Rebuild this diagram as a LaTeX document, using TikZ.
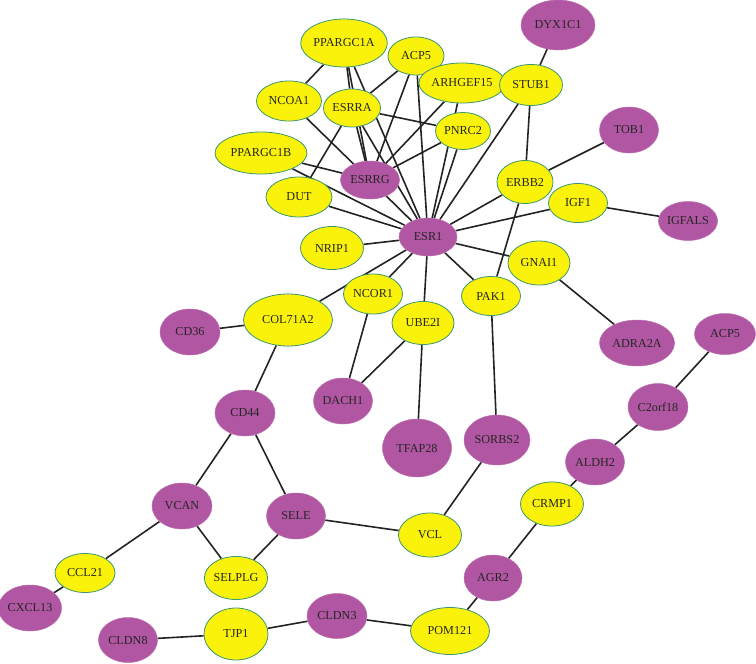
\documentclass[tikz,border=0pt]{standalone}
\usepackage{fontspec}
\setmainfont{Liberation Serif}
\usepackage{tikz}
\usetikzlibrary{shapes.geometric, backgrounds}
\definecolor{geneyellow}{RGB}{250,242,10}
\definecolor{geneborder}{RGB}{60,150,110}
\definecolor{genepurple}{RGB}{177,86,162}
\definecolor{edgegray}{RGB}{35,35,35}

\begin{document}
\begin{tikzpicture}[
		x=1pt, y=-1pt,
		gene/.style={ellipse, inner sep=0pt, font=\fontsize{12.2}{13}\selectfont,
			text=black!85, minimum width=60, minimum height=44},
		yel/.style={gene, fill=geneyellow, draw=geneborder, line width=0.8pt},
		pur/.style={gene, fill=genepurple, draw=genepurple!85!white, line width=0.5pt},
		edge/.style={line width=1.6pt, draw=edgegray}
	]
		\useasboundingbox (0,0) rectangle (756,664);

		% upper cluster round ESR1
		\node[yel, minimum width=86, minimum height=48] (ppargc1a) at (344,43) {PPARGC1A};
		\node[yel, minimum width=56, minimum height=38] (acp5) at (416,56) {ACP5};
		\node[yel, minimum width=68, minimum height=40] (arhgef15) at (462,83) {ARHGEF15};
		\node[yel, minimum width=63, minimum height=41] (stub1) at (531,85) {STUB1};
		\node[pur, minimum width=74, minimum height=50] (dyx1c1) at (558,25) {DYX1C1};
		\node[yel, minimum width=65, minimum height=40] (ncoa1) at (289,101) {NCOA1};
		\node[yel, minimum width=57, minimum height=38] (esrra) at (352,108) {ESRRA};
		\node[yel, minimum width=55, minimum height=37] (pnrc2) at (463,131) {PNRC2};
		\node[pur, minimum width=59, minimum height=46] (tob1) at (629,130) {TOB1};
		\node[yel, minimum width=92, minimum height=42] (ppargc1b) at (261,153) {PPARGC1B};
		\node[pur, minimum width=59, minimum height=38] (esrrg) at (370,180) {ESRRG};
		\node[yel, minimum width=56, minimum height=43] (erbb2) at (525,182) {ERBB2};
		\node[yel, minimum width=66, minimum height=40] (dut) at (299,197) {DUT};
		\node[yel, minimum width=59, minimum height=39] (igf1) at (578,203) {IGF1};
		\node[pur, minimum width=59, minimum height=39] (igfals) at (688,221) {IGFALS};
		\node[pur, minimum width=58, minimum height=38] (esr1) at (428,237) {ESR1};
		\node[yel, minimum width=63, minimum height=43] (nrip1) at (332,248) {NRIP1};
		\node[yel, minimum width=62, minimum height=44] (gnai1) at (539,263) {GNAI1};
		\node[yel, minimum width=59, minimum height=40] (ncor1) at (373,294) {NCOR1};
		\node[yel, minimum width=59, minimum height=39] (pak1) at (491,296) {PAK1};
		\node[yel, minimum width=89, minimum height=52] (col71a2) at (288,320) {COL71A2};
		\node[yel, minimum width=62, minimum height=43] (ube2i) at (423,323) {UBE2I};

		% lower part
		\node[pur, minimum width=60, minimum height=46] (cd36) at (190,332) {CD36};
		\node[pur, minimum width=61, minimum height=41] (acp5b) at (725,334) {ACP5};
		\node[pur, minimum width=75, minimum height=46] (adra2a) at (637,343) {ADRA2A};
		\node[pur, minimum width=59, minimum height=46] (dach1) at (343,401) {DACH1};
		\node[pur, minimum width=60, minimum height=47] (c2orf18) at (658,407) {C2orf18};
		\node[pur, minimum width=60, minimum height=46] (cd44) at (245,413) {CD44};
		\node[pur, minimum width=66, minimum height=50] (sorbs2) at (497,440) {SORBS2};
		\node[pur, minimum width=69, minimum height=58] (tfap28) at (417,448) {TFAP28};
		\node[pur, minimum width=59, minimum height=46] (aldh2) at (595,462) {ALDH2};
		\node[yel, minimum width=63, minimum height=44] (crmp1) at (552,504) {CRMP1};
		\node[pur, minimum width=60, minimum height=46] (vcan) at (182,506) {VCAN};
		\node[pur, minimum width=59, minimum height=46] (sele) at (296,516) {SELE};
		\node[yel, minimum width=63, minimum height=44] (vcl) at (430,535) {VCL};
		\node[yel, minimum width=60, minimum height=39] (ccl21) at (85,573) {CCL21};
		\node[yel, minimum width=63, minimum height=43] (selplg) at (236,578) {SELPLG};
		\node[pur, minimum width=58, minimum height=46] (agr2) at (493,578) {AGR2};
		\node[pur, minimum width=60, minimum height=46] (cxcl13) at (30,608) {CXCL13};
		\node[pur, minimum width=60, minimum height=45] (cldn3) at (337,616) {CLDN3};
		\node[yel, minimum width=79, minimum height=47] (pom121) at (450,631) {POM121};
		\node[yel, minimum width=64, minimum height=52] (tjp1) at (236,634) {TJP1};
		\node[pur, minimum width=59, minimum height=45] (cldn8) at (128,640) {CLDN8};

		\begin{scope}[on background layer]
		\draw[edge] (ppargc1a) -- (ncoa1);
		\draw[edge] (ppargc1a) -- (esrra);
		\draw[edge] (ppargc1a) -- (esrrg);
		\draw[edge] (ppargc1a) -- (esr1);
		\draw[edge] (acp5) -- (esrra);
		\draw[edge] (acp5) -- (esrrg);
		\draw[edge] (acp5) -- (esr1);
		\draw[edge] (arhgef15) -- (esrrg);
		\draw[edge] (arhgef15) -- (esr1);
		\draw[edge] (ncoa1) -- (esrrg);
		\draw[edge] (esrra) -- (pnrc2);
		\draw[edge] (esrra) -- (esrrg);
		\draw[edge] (esrra) -- (esr1);
		\draw[edge] (esrra) -- (dut);
		\draw[edge] (pnrc2) -- (esrrg);
		\draw[edge] (pnrc2) -- (esr1);
		\draw[edge] (ppargc1b) -- (esrrg);
		\draw[edge] (ppargc1b) -- (esr1);
		\draw[edge] (esrrg) -- (esr1);
		\draw[edge] (dut) -- (esr1);
		\draw[edge] (stub1) -- (dyx1c1);
		\draw[edge] (stub1) -- (erbb2);
		\draw[edge] (stub1) -- (esr1);
		\draw[edge] (erbb2) -- (tob1);
		\draw[edge] (erbb2) -- (esr1);
		\draw[edge] (erbb2) -- (pak1);
		\draw[edge] (igf1) -- (esr1);
		\draw[edge] (igf1) -- (igfals);
		\draw[edge] (gnai1) -- (esr1);
		\draw[edge] (gnai1) -- (adra2a);
		\draw[edge] (esr1) -- (nrip1);
		\draw[edge] (esr1) -- (col71a2);
		\draw[edge] (esr1) -- (ncor1);
		\draw[edge] (esr1) -- (ube2i);
		\draw[edge] (esr1) -- (pak1);
		\draw[edge] (col71a2) -- (cd36);
		\draw[edge] (col71a2) -- (cd44);
		\draw[edge] (ncor1) -- (dach1);
		\draw[edge] (ube2i) -- (dach1);
		\draw[edge] (ube2i) -- (tfap28);
		\draw[edge] (pak1) -- (sorbs2);
		\draw[edge] (sorbs2) -- (vcl);
		\draw[edge] (cd44) -- (vcan);
		\draw[edge] (cd44) -- (sele);
		\draw[edge] (vcan) -- (ccl21);
		\draw[edge] (vcan) -- (selplg);
		\draw[edge] (sele) -- (selplg);
		\draw[edge] (sele) -- (vcl);
		\draw[edge] (ccl21) -- (cxcl13);
		\draw[edge] (cldn8) -- (tjp1);
		\draw[edge] (tjp1) -- (cldn3);
		\draw[edge] (cldn3) -- (pom121);
		\draw[edge] (pom121) -- (agr2);
		\draw[edge] (agr2) -- (crmp1);
		\draw[edge] (crmp1) -- (aldh2);
		\draw[edge] (aldh2) -- (c2orf18);
		\draw[edge] (c2orf18) -- (acp5b);
		\end{scope}
	\end{tikzpicture}
\end{document}
